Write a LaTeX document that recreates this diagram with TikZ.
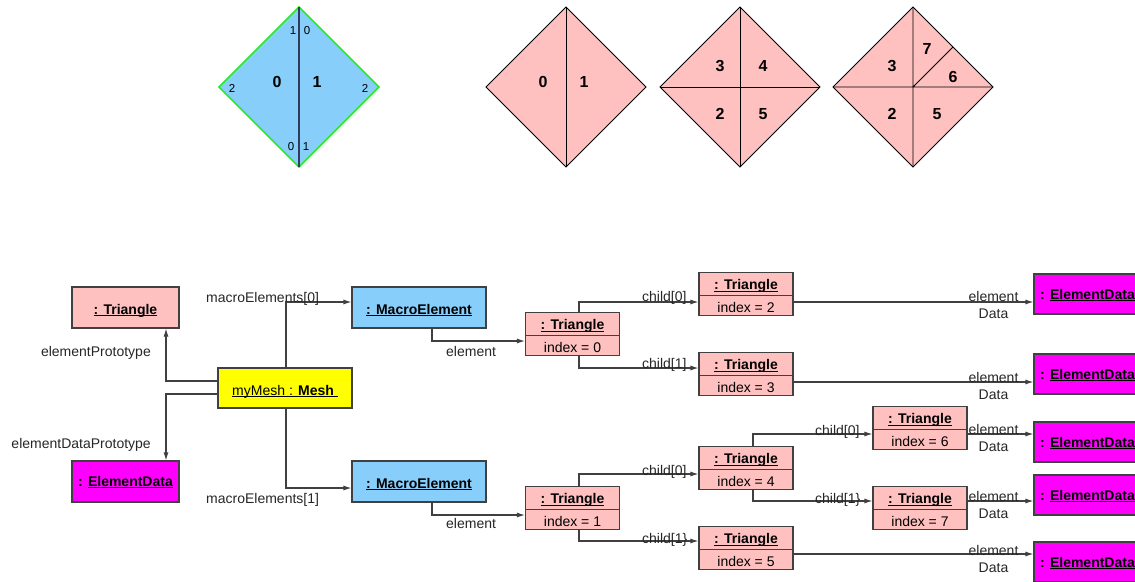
\documentclass[tikz,border=0pt]{standalone}
\usepackage{fontspec}
\setmainfont{Liberation Sans}
\usetikzlibrary{arrows.meta,shapes.multipart}
\definecolor{pinkf}{RGB}{255,192,192}
\definecolor{bluef}{RGB}{135,206,250}
\definecolor{magf}{RGB}{255,0,255}
\definecolor{yelf}{RGB}{255,255,0}
\definecolor{greenb}{RGB}{40,235,40}
\definecolor{linec}{RGB}{64,64,64}
\definecolor{divc}{RGB}{50,60,90}
\newsavebox{\myulbox}
\newcommand{\ulx}[1]{\sbox{\myulbox}{#1}\rlap{\rule[-1.8pt]{\wd\myulbox}{0.9pt}}\usebox{\myulbox}}
\newcommand{\tritext}[1]{{\bfseries\ulx{: Triangle}}\rule{0pt}{15pt}\nodepart{two}\rule{0pt}{15pt}index = #1}
\begin{document}
\begin{tikzpicture}[x=1pt,y=-1pt,
  obj/.style={draw=black!75, line width=1.1pt, minimum height=41pt, inner sep=0pt,
    text height=16pt, text depth=2pt,
    font=\bfseries\fontsize{14}{16}\selectfont},
  edbox/.style={obj, fill=magf, minimum width=107pt, minimum height=40pt,
    text height=12pt, text depth=2pt},
  tribox/.style={rectangle split, rectangle split parts=2, draw=black!75, line width=1.1pt,
    fill=pinkf, minimum width=94pt, inner xsep=2pt, inner ysep=2pt,
    font=\fontsize{14}{16}\selectfont},
  conn/.style={draw=linec, line width=1.1pt, -{Latex[length=8pt,width=5pt]}},
  lbl/.style={font=\fontsize{14}{16}\selectfont, text=black!85, inner sep=0pt},
  dlbl/.style={font=\bfseries\fontsize{16}{18}\selectfont, inner sep=0pt},
  slbl/.style={font=\fontsize{11.5}{12}\selectfont, inner sep=0pt},
  pinkd/.style={fill=pinkf, draw=black, line width=0.9pt}
]
\clip (0,0) rectangle (1135,581);
% ---------- top diamonds ----------
\draw[fill=bluef, draw=greenb, line width=1.5pt] (299,7) -- (379,87) -- (299,167) -- (219,87) -- cycle;
\draw[divc, line width=1.5pt] (299,7) -- (299,167);
\node[slbl] (b1) at (293,31) {1};
\node[slbl] (b2) at (307,31) {0};
\node[slbl] (b3) at (232,88) {2};
\node[slbl] (b4) at (365,88) {2};
\node[slbl] (b5) at (291,147) {0};
\node[slbl] (b6) at (306,147) {1};
\node[dlbl] (b7) at (277,82) {0};
\node[dlbl] (b8) at (317,82) {1};

\draw[pinkd] (566,7) -- (646,87) -- (566,167) -- (486,87) -- cycle;
\draw[black, line width=0.9pt] (566,7) -- (566,167);
\node[dlbl] (p1) at (543,82) {0};
\node[dlbl] (p2) at (584,82) {1};

\draw[pinkd] (740,7) -- (820,87) -- (740,167) -- (660,87) -- cycle;
\draw[black, line width=0.9pt] (740,7) -- (740,167) (660,87) -- (820,87);
\node[dlbl] (q1) at (720,66) {3};
\node[dlbl] (q2) at (763,66) {4};
\node[dlbl] (q3) at (720,114) {2};
\node[dlbl] (q4) at (763,114) {5};

\draw[pinkd] (913,7) -- (993,87) -- (913,167) -- (833,87) -- cycle;
\draw[black, line width=0.9pt] (913,7) -- (913,167) (833,87) -- (993,87) (913,87) -- (953,47);
\node[dlbl] (r1) at (892,66) {3};
\node[dlbl] (r2) at (927,49) {7};
\node[dlbl] (r3) at (953,77) {6};
\node[dlbl] (r4) at (892,114) {2};
\node[dlbl] (r5) at (937,114) {5};

% ---------- objects ----------
\node[obj, fill=pinkf, minimum width=107pt] (tproto) at (125.5,307.5) {\ulx{: Triangle}};
\node[edbox, minimum height=41pt] (edproto) at (125.5,481.5) {: \ulx{ElementData}};
\node[obj, fill=yelf, minimum width=134pt, minimum height=40pt, font=\fontsize{14}{16}\selectfont] (mesh) at (285,388) {\ulx{myMesh : \textbf{Mesh}\ }};
\node[obj, fill=bluef, minimum width=134pt] (me0) at (419,307.5) {\ulx{: MacroElement}};
\node[obj, fill=bluef, minimum width=134pt, text height=15pt] (me1) at (419,481.5) {\ulx{: MacroElement}};

\node[tribox] (t0) at (572.5,334) {\tritext{0}};
\node[tribox] (t1) at (572.5,508) {\tritext{1}};
\node[tribox] (t2) at (746,294) {\tritext{2}};
\node[tribox] (t3) at (746,374) {\tritext{3}};
\node[tribox] (t4) at (746,468) {\tritext{4}};
\node[tribox] (t5) at (746,548) {\tritext{5}};
\node[tribox] (t6) at (920,428) {\tritext{6}};
\node[tribox] (t7) at (920,508) {\tritext{7}};

\node[edbox] (ed1) at (1087.5,294) {: \ulx{ElementData}};
\node[edbox] (ed2) at (1087.5,374) {: \ulx{ElementData}};
\node[edbox] (ed3) at (1087.5,442) {: \ulx{ElementData}};
\node[edbox] (ed4) at (1087.5,495) {: \ulx{ElementData}};
\node[edbox] (ed5) at (1087.5,562) {: \ulx{ElementData}};

% ---------- connectors ----------
\draw[conn] ([yshift=7pt]mesh.west) -| ([xshift=40.5pt]tproto.south);
\draw[conn] ([yshift=-6pt]mesh.west) -| ([xshift=40.5pt]edproto.north);
\draw[conn] ([xshift=1pt]mesh.north) |- ([yshift=5.5pt]me0.west);
\draw[conn] ([xshift=1pt]mesh.south) |- ([yshift=-6.5pt]me1.west);
\draw[conn] ([xshift=13pt]me0.south) |- ([yshift=-7pt]t0.west);
\draw[conn] ([xshift=13pt]me1.south) |- ([yshift=-7pt]t1.west);
\draw[conn] ([xshift=6.5pt]t0.north) |- ([yshift=-8pt]t2.west);
\draw[conn] ([xshift=6.5pt]t0.south) |- ([yshift=6pt]t3.west);
\draw[conn] ([xshift=6.5pt]t1.north) |- ([yshift=-6pt]t4.west);
\draw[conn] ([xshift=6.5pt]t1.south) |- ([yshift=7pt]t5.west);
\draw[conn] ([xshift=7pt]t4.north) |- ([yshift=-6pt]t6.west);
\draw[conn] ([xshift=7pt]t4.south) |- ([yshift=7pt]t7.west);
\draw[conn] ([yshift=-8pt]t2.east) -- ([yshift=-8pt]ed1.west);
\draw[conn] ([yshift=-8pt]t3.east) -- ([yshift=-8pt]ed2.west);
\draw[conn] ([yshift=-6pt]t6.east) -- ([yshift=8pt]ed3.west);
\draw[conn] ([yshift=7pt]t7.east) -- ([yshift=-6pt]ed4.west);
\draw[conn] ([yshift=-6pt]t5.east) -- ([yshift=8pt]ed5.west);

% ---------- labels ----------
\node[lbl, anchor=base west] (lm0) at (206,302) {macroElements[0]};
\node[lbl, anchor=base west] (lm1) at (206,503) {macroElements[1]};
\node[lbl, anchor=base east] (lep) at (151,356) {elementPrototype};
\node[lbl, anchor=base east] (ledp) at (151,448) {elementDataPrototype};
\node[lbl, anchor=base west] (le0) at (446,356) {element};
\node[lbl, anchor=base west] (le1) at (446,528) {element};
\node[lbl, anchor=base west] (lc2) at (642,301) {child[0]};
\node[lbl, anchor=base west] (lc3) at (642,368) {child[1]};
\node[lbl, anchor=base west] (lc4) at (642,475) {child[0]};
\node[lbl, anchor=base west] (lc5) at (642,543) {child[1\}};
\node[lbl, anchor=base west] (lc6) at (815,435) {child[0]};
\node[lbl, anchor=base west] (lc7) at (815,503) {child[1\}};
\foreach \yy/\nn in {301/a,382/b,434/c,501/d,555/e}{
  \node[lbl, anchor=base] (lel\nn) at (993.5,\yy) {element};
  \node[lbl, anchor=base] (led\nn) at (993.5,\yy+17) {Data};
}
\end{tikzpicture}
\end{document}
